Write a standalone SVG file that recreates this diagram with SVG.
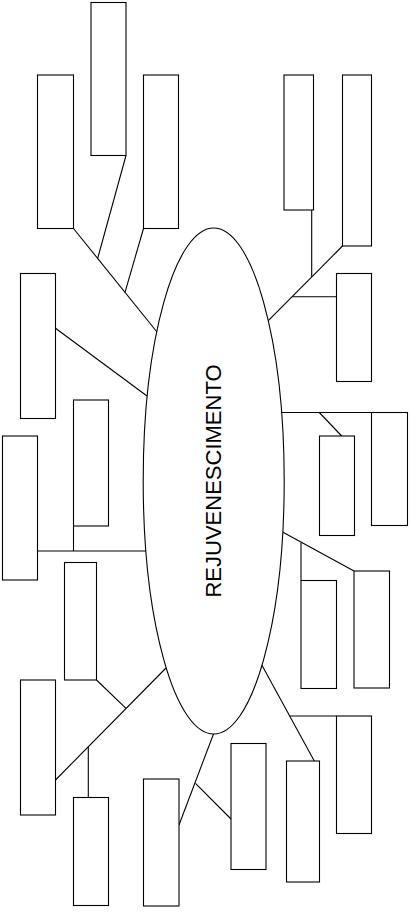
<svg xmlns="http://www.w3.org/2000/svg" width="410" height="912" viewBox="0 0 410 912">
<style>
.n{fill:#fff;stroke:#000;stroke-width:1.1}
.c line{stroke:#000;stroke-width:1.1}
.t{font-family:"Liberation Sans",Arial,sans-serif;font-size:22px;fill:#000}
</style>
<rect width="410" height="912" fill="#fff"/>
<g id="connectors" class="c">
<line x1="73.5" y1="228.5" x2="157" y2="332"/>
<line x1="126" y1="155.5" x2="97.7" y2="258.3"/>
<line x1="143.5" y1="228.5" x2="125" y2="292.3"/>
<line x1="55.5" y1="328.3" x2="147" y2="396"/>
<line x1="37.5" y1="551" x2="146.5" y2="551"/>
<line x1="73.5" y1="526" x2="73.5" y2="551"/>
<line x1="166" y1="668" x2="55.5" y2="780"/>
<line x1="96.5" y1="680" x2="126" y2="708.3"/>
<line x1="88.3" y1="747" x2="88.3" y2="797.5"/>
<line x1="213.5" y1="734" x2="179" y2="825"/>
<line x1="195.5" y1="783.3" x2="231" y2="819"/>
<line x1="261.8" y1="665" x2="314.3" y2="761"/>
<line x1="289.5" y1="716" x2="336.5" y2="716"/>
<line x1="283" y1="532.3" x2="354" y2="571"/>
<line x1="301" y1="542.5" x2="301" y2="580.5"/>
<line x1="281.5" y1="412.5" x2="371.5" y2="412.5"/>
<line x1="319.3" y1="412.5" x2="341.7" y2="436"/>
<line x1="268.3" y1="320.7" x2="342.5" y2="246"/>
<line x1="311.7" y1="210" x2="311.7" y2="277"/>
<line x1="292.3" y1="296.7" x2="336.5" y2="296.7"/>
</g>
<g id="center">
<ellipse class="n" cx="213.7" cy="481" rx="70.5" ry="253"/>
<text class="t" transform="translate(220.5,481) rotate(-90)" text-anchor="middle">REJUVENESCIMENTO</text>
</g>
<g id="nA"><rect class="n" x="91" y="2.5" width="35" height="153"/></g>
<g id="nB"><rect class="n" x="37.5" y="75" width="36" height="153.5"/></g>
<g id="nC"><rect class="n" x="143.5" y="75" width="35" height="153.5"/></g>
<g id="nD"><rect class="n" x="20.5" y="273.5" width="35" height="145"/></g>
<g id="nE"><rect class="n" x="73.5" y="400" width="35" height="126"/></g>
<g id="nF"><rect class="n" x="2.5" y="436" width="35" height="144"/></g>
<g id="nG"><rect class="n" x="64.5" y="562.5" width="32" height="117.5"/></g>
<g id="nH"><rect class="n" x="20.5" y="680" width="35" height="135"/></g>
<g id="nI"><rect class="n" x="73.5" y="797.5" width="35" height="108"/></g>
<g id="nJ"><rect class="n" x="143.5" y="779" width="35.5" height="127"/></g>
<g id="nK"><rect class="n" x="231" y="743.5" width="35" height="126"/></g>
<g id="nL"><rect class="n" x="284" y="75" width="29.5" height="135"/></g>
<g id="nM"><rect class="n" x="342.5" y="75" width="29" height="171"/></g>
<g id="nN"><rect class="n" x="336.5" y="273.5" width="35" height="108"/></g>
<g id="nO"><rect class="n" x="371.5" y="412.5" width="36" height="113"/></g>
<g id="nP"><rect class="n" x="319.5" y="436" width="35" height="99.5"/></g>
<g id="nQ"><rect class="n" x="354" y="571" width="35.5" height="117"/></g>
<g id="nR"><rect class="n" x="301" y="580.5" width="35.5" height="108"/></g>
<g id="nS"><rect class="n" x="286.5" y="761" width="33" height="121"/></g>
<g id="nT"><rect class="n" x="336.5" y="716" width="35" height="117.5"/></g>
</svg>
